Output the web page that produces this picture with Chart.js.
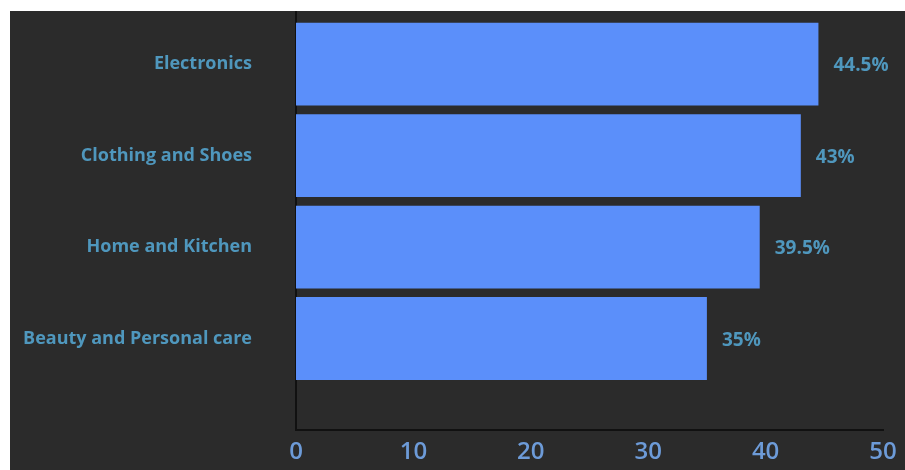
<!DOCTYPE html>
<html>
<head>
<meta charset="utf-8">
<script src="https://cdn.jsdelivr.net/npm/chart.js@4.4.1/dist/chart.umd.min.js"></script>
<style>
  html, body { margin: 0; padding: 0; background: #ffffff; }
  #wrap {
    position: absolute; left: 10px; top: 11px;
    width: 895px; height: 459px; background: #2b2b2b;
  }
</style>
</head>
<body>
<div id="wrap"><canvas id="chart" width="895" height="459"></canvas></div>
<script>
// categorías y valores (%)
const categories = ['Electronics', 'Clothing and Shoes', 'Home and Kitchen', 'Beauty and Personal care'];
const values     = [44.5, 43, 39.5, 35];
const xTicks     = [0, 10, 20, 30, 40, 50];

const labelColor = '#4f97bd';
const tickColor  = '#6d9bd8';

// etiquetas de valor a la derecha de cada barra
const valueLabels = {
  id: 'valueLabels',
  afterDatasetsDraw(chart) {
    const ctx = chart.ctx;
    const meta = chart.getDatasetMeta(0);
    ctx.save();
    ctx.font = 'bold 19px "Open Sans"';
    ctx.fillStyle = labelColor;
    ctx.textAlign = 'left';
    ctx.textBaseline = 'middle';
    meta.data.forEach((bar, i) => {
      ctx.fillText(values[i] + '%', bar.x + 15, bar.y + 2);
    });
    ctx.restore();
  }
};

new Chart(document.getElementById('chart'), {
  type: 'bar',
  data: {
    datasets: [{
      data: values.map((v, i) => ({ x: v, y: i })),
      backgroundColor: '#5b8ffa',
      borderWidth: 0,
      categoryPercentage: 1,
      barPercentage: 0.905
    }]
  },
  options: {
    indexAxis: 'y',
    responsive: false,
    animation: false,
    layout: { padding: { top: 0, right: 22, bottom: 0, left: 0 } },
    plugins: {
      legend: { display: false },
      tooltip: { enabled: false }
    },
    scales: {
      x: {
        type: 'linear',
        min: 0,
        max: 50,
        afterBuildTicks: s => { s.ticks = xTicks.map(v => ({ value: v })); },
        afterFit: s => { s.height = 40; },
        grid: { display: false },
        border: { display: true, color: '#111111', width: 2 },
        ticks: {
          color: tickColor,
          padding: 0,
          maxRotation: 0,
          font: { family: 'Open Sans', size: 24, weight: '600' }
        }
      },
      y: {
        type: 'linear',
        reverse: true,
        offset: false,
        min: -0.58,
        max: 4,
        afterBuildTicks: s => { s.ticks = categories.map((_, i) => ({ value: i })); },
        afterFit: s => { s.width = 286; s.paddingTop = 0; s.paddingBottom = 0; },
        grid: { display: false, offset: false, tickLength: 44 },
        border: { display: true, color: '#111111', width: 2 },
        ticks: {
          color: labelColor,
          padding: 0,
          callback: v => categories[v],
          font: { family: 'Open Sans', size: 18, weight: 'bold' }
        }
      }
    }
  },
  plugins: [valueLabels]
});
</script>
</body>
</html>
